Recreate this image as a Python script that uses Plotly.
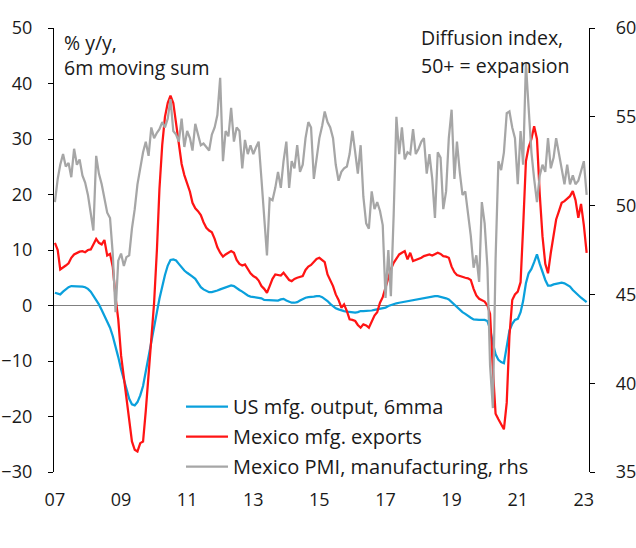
import plotly.graph_objects as go
import pandas as pd

# ---------------- data (monthly, Jan 2007 - Feb 2023) ----------------
us_output = [
    2.3, 2.1, 2.0, 2.5, 2.9, 3.3, 3.5, 3.5, 3.5, 3.5, 3.4, 3.3,            # 2007
    3.0, 2.5, 1.8, 1.0, 0.2, -0.8, -1.8, -2.7, -4.0, -5.5, -7.3, -9.3,     # 2008
    -11.5, -13.5, -15.2, -16.8, -17.8, -18.0, -17.4, -16.2, -14.5, -12.0, -9.5, -6.8,  # 2009
    -4.0, -1.2, 1.2, 3.5, 5.5, 7.2, 8.2, 8.3, 8.1, 7.5, 6.8, 6.3,          # 2010
    5.9, 5.6, 5.2, 4.8, 4.0, 3.3, 2.9, 2.6, 2.4, 2.4, 2.5, 2.7,            # 2011
    2.9, 3.1, 3.3, 3.4, 3.6, 3.5, 3.1, 2.8, 2.5, 2.1, 1.8, 1.6,            # 2012
    1.5, 1.5, 1.4, 1.3, 1.0, 1.0, 1.0, 1.0, 0.9, 0.9, 1.1, 1.2,            # 2013
    0.9, 0.7, 0.5, 0.5, 0.6, 0.9, 1.2, 1.4, 1.5, 1.5, 1.6, 1.7,            # 2014
    1.7, 1.5, 1.2, 0.8, 0.3, -0.1, -0.5, -0.7, -0.9, -1.0, -1.1, -1.2,     # 2015
    -1.3, -1.3, -1.2, -1.0, -1.0, -1.0, -1.0, -0.9, -0.8, -0.7, -0.7, -0.6,  # 2016
    -0.4, -0.1, 0.1, 0.3, 0.4, 0.5, 0.6, 0.7, 0.8, 0.8, 0.9, 1.0,          # 2017
    1.1, 1.2, 1.3, 1.4, 1.5, 1.6, 1.7, 1.7, 1.6, 1.5, 1.3, 1.1,            # 2018
    0.6, 0.1, -0.4, -0.9, -1.2, -1.5, -1.9, -2.2, -2.5, -2.6, -2.6, -2.6,  # 2019
    -2.6, -2.8, -4.2, -6.8, -8.8, -9.8, -10.2, -10.4, -7.0, -4.5, -3.3, -2.6,  # 2020
    -2.4, -1.2, 0.8, 4.0, 5.8, 6.6, 7.8, 9.2, 7.5, 5.9, 4.6, 3.6,          # 2021
    3.6, 3.8, 3.9, 4.0, 4.1, 4.0, 3.7, 3.4, 2.8, 2.3, 1.8, 1.4,            # 2022
    1.0, 0.6,                                                              # 2023
]

mex_exports = [
    11.3, 10.0, 6.5, 6.8, 7.2, 7.6, 8.6, 9.2, 9.5, 9.7, 9.8, 9.6,          # 2007
    10.0, 10.1, 11.0, 12.0, 11.3, 11.0, 11.8, 9.0, 9.3, 7.0, 1.5, -2.5,    # 2008
    -9.0, -13.0, -17.0, -21.0, -24.5, -26.0, -26.3, -24.8, -24.5, -19.0, -12.0, -5.5,  # 2009
    0.5, 10.0, 21.0, 29.0, 34.0, 36.5, 37.8, 36.5, 33.0, 29.0, 25.5, 23.5, # 2010
    22.0, 20.5, 18.5, 17.5, 17.0, 16.3, 15.0, 14.0, 13.5, 13.2, 12.0, 10.5,  # 2011
    9.5, 8.8, 9.2, 9.5, 9.8, 9.5, 8.2, 7.5, 7.2, 7.4, 6.5, 5.8,            # 2012
    5.3, 5.0, 4.5, 3.5, 3.0, 2.3, 3.5, 4.8, 5.6, 5.5, 5.4, 5.9,            # 2013
    5.3, 4.6, 4.4, 4.8, 5.0, 5.2, 5.3, 6.4, 7.0, 7.3, 7.8, 8.4,            # 2014
    8.6, 8.2, 7.8, 5.6, 4.5, 3.5, 2.0, 1.0, -0.4, 0.2, -1.0, -2.5,         # 2015
    -2.6, -2.8, -3.5, -4.0, -3.4, -3.6, -4.0, -2.8, -1.8, -1.2, 0.5, 1.5,  # 2016
    3.2, 5.0, 6.5, 7.7, 8.5, 9.2, 9.5, 9.8, 8.3, 9.5, 8.0, 8.2,            # 2017
    8.3, 8.6, 8.9, 9.0, 9.2, 9.0, 9.2, 9.5, 9.3, 8.9, 8.8, 8.6,            # 2018
    7.0, 6.0, 5.5, 5.3, 5.2, 5.0, 4.9, 4.6, 3.0, 1.8, 1.2, 1.0,            # 2019
    0.7, 0.0, -1.5, -11.5, -19.5, -20.5, -21.5, -22.3, -17.5, -5.5, 1.0, 2.0,  # 2020
    2.5, 4.2, 14.0, 26.0, 28.5, 30.0, 32.3, 30.0, 20.0, 12.5, 7.5, 5.8,    # 2021
    9.5, 12.8, 15.5, 17.0, 18.5, 18.8, 19.2, 19.7, 20.6, 19.0, 15.8, 18.3, # 2022
    14.5, 9.5,                                                             # 2023
]

mex_pmi = [
    50.2, 51.5, 52.3, 52.9, 52.2, 52.4, 51.6, 53.2, 52.3, 52.6, 51.7, 51.3,  # 2007
    50.6, 49.5, 48.6, 52.8, 51.8, 51.2, 50.3, 49.6, 49.3, 47.3, 44.0, 46.9,  # 2008
    47.3, 46.6, 47.1, 47.2, 48.7, 49.8, 51.2, 52.1, 53.0, 53.6, 52.8, 54.4,  # 2009
    53.8, 54.1, 54.3, 54.7, 54.4, 54.9, 56.0, 54.2, 54.0, 53.6, 54.9, 53.3,  # 2010
    54.2, 53.8, 53.1, 54.6, 54.0, 53.4, 53.5, 53.3, 53.1, 54.0, 54.4, 55.1,  # 2011
    57.2, 52.5, 54.2, 53.9, 55.5, 53.6, 54.4, 54.2, 52.1, 53.7, 52.9, 53.4,  # 2012
    52.9, 53.3, 53.6, 51.5, 49.5, 47.2, 50.4, 50.3, 51.0, 51.9, 51.0, 52.5,  # 2013
    53.6, 51.0, 52.5, 52.1, 53.4, 51.9, 52.3, 53.8, 54.7, 54.4, 51.5, 52.8,  # 2014
    53.8, 54.5, 55.3, 54.7, 54.4, 53.8, 52.3, 51.4, 51.9, 52.1, 52.2, 52.9,  # 2015
    54.2, 53.0, 51.8, 53.4, 50.5, 49.0, 48.7, 50.8, 49.8, 50.2, 49.7, 48.9,  # 2016
    44.8, 47.5, 44.9, 49.5, 55.0, 52.9, 54.4, 52.6, 53.0, 52.9, 54.3, 52.9,  # 2017
    53.2, 53.6, 53.8, 51.8, 52.9, 51.5, 49.3, 53.0, 52.7, 49.8, 50.8, 53.8,  # 2018
    55.4, 51.5, 53.6, 51.9, 50.6, 50.8, 49.5, 48.3, 46.5, 47.2, 45.7, 50.2,  # 2019
    49.0, 46.5, 41.0, 38.6, 47.0, 52.5, 52.0, 53.0, 55.2, 55.3, 54.4, 53.8,  # 2020
    51.2, 54.2, 52.3, 58.0, 55.5, 53.0, 51.5, 50.2, 51.7, 52.3, 51.9, 53.8,  # 2021
    52.1, 52.7, 53.8, 52.9, 51.9, 51.2, 52.3, 51.2, 51.7, 51.2, 51.4, 51.9,  # 2022
    52.5, 50.6,                                                            # 2023
]

series_names = ["US mfg. output, 6mma", "Mexico mfg. exports",
                "Mexico PMI, manufacturing, rhs"]
tick_dates = ["2007-01-01", "2009-01-01", "2011-01-01", "2013-01-01",
              "2015-01-01", "2017-01-01", "2019-01-01", "2021-01-01",
              "2023-01-01"]
tick_labels = ["07", "09", "11", "13", "15", "17", "19", "21", "23"]

dates = pd.date_range("2007-01-01", periods=len(us_output), freq="MS")

FONT = "Open Sans"
TXT = "#1a1a1a"
FS = 19.5
LEGFS = 20
TICKFS = 18

fig = go.Figure()
fig.add_trace(go.Scatter(x=dates, y=us_output, name=series_names[0], mode="lines",
                         legendgroup="a", line=dict(color="#0aa0dc", width=2.25)))
fig.add_trace(go.Scatter(x=dates, y=mex_exports, name=series_names[1], mode="lines",
                         legendgroup="b", line=dict(color="#ff1414", width=2.25)))
fig.add_trace(go.Scatter(x=dates, y=mex_pmi, name=series_names[2], mode="lines",
                         legendgroup="c", yaxis="y2", line=dict(color="#a6a6a6", width=2.25)))

tickfont = dict(family=FONT, size=TICKFS, color=TXT)

fig.update_layout(
    width=636, height=548,
    margin=dict(l=54, r=47, t=28, b=76, autoexpand=False),
    paper_bgcolor="white", plot_bgcolor="white",
    font=dict(family=FONT, size=FS, color=TXT),
    showlegend=True,
    legend=dict(x=(181 - 54) / 535, y=(472 - 387) / 444, xanchor="left", yanchor="top",
                bgcolor="rgba(0,0,0,0)", font=dict(family=FONT, size=LEGFS, color=TXT),
                tracegroupgap=1, itemwidth=42),
    xaxis=dict(type="date", range=["2006-12-22", "2023-02-27"],
               tickvals=tick_dates, ticktext=tick_labels, automargin=False,
               showgrid=False, showline=False, zeroline=False, ticks="",
               ticklabelstandoff=15, tickfont=tickfont),
    yaxis=dict(range=[-30, 50], dtick=10, showgrid=False, automargin=False,
               showline=True, linecolor="#000", linewidth=1.3,
               ticks="outside", ticklen=5, tickwidth=1.3, tickcolor="#000",
               zeroline=True, zerolinecolor="#808080", zerolinewidth=1.3,
               ticklabelstandoff=12, tickfont=tickfont),
    yaxis2=dict(range=[35, 60], dtick=5, overlaying="y", side="right", showgrid=False,
                automargin=False,
                showline=True, linecolor="#000", linewidth=1.3,
                ticks="outside", ticklen=5, tickwidth=1.3, tickcolor="#000",
                zeroline=False,
                ticklabelstandoff=17, tickfont=tickfont),
    annotations=[
        dict(text="% y/y,", xref="paper", yref="paper", x=(62 - 54) / 535, y=(472 - 42) / 444,
             xanchor="left", yanchor="middle", showarrow=False),
        dict(text="6m moving sum", xref="paper", yref="paper", x=(62 - 54) / 535, y=(472 - 68) / 444,
             xanchor="left", yanchor="middle", showarrow=False),
        dict(text="Diffusion index,", xref="paper", yref="paper", x=(419 - 54) / 535, y=(472 - 37) / 444,
             xanchor="left", yanchor="middle", showarrow=False),
        dict(text="50+ = expansion", xref="paper", yref="paper", x=(419 - 54) / 535, y=(472 - 65) / 444,
             xanchor="left", yanchor="middle", showarrow=False),
    ],
)

fig.write_html("out.html")
